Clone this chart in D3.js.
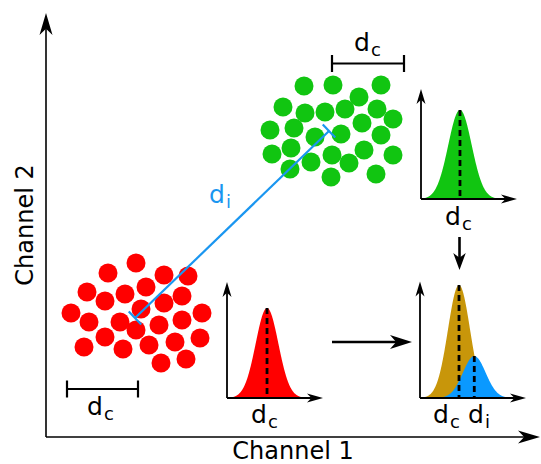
<!DOCTYPE html>
<html><head><meta charset="utf-8">
<script src="https://cdn.jsdelivr.net/npm/d3@7"></script>
<style>html,body{margin:0;padding:0;background:#fff;} svg{display:block;font-family:"DejaVu Sans",sans-serif;}</style>
</head><body><svg id="c" width="541" height="464"></svg>
<script>
// ---- data (channel units) ----
const redDots = [[90,174],[62,164],[118,162],[142,161],[41,145],[100,150],[79,143],[59,136],[136,141],[118,134],
  [95,128],[25,124],[156,124],[43,115],[74,115],[90,107],[113,112],[136,117],[59,100],[154,99],[129,95],[103,92],
  [38,90],[77,88],[115,74],[140,78]];
const greenDots = [[258,351],[287,352],[335,352],[237,330],[313,340],[259,324],[279,325],[299,328],[331,328],[347,318],
  [224,307],[248,309],[316,314],[269,300],[295,303],[335,302],[226,283],[245,289],[286,282],[318,287],[265,275],
  [303,274],[347,282],[244,268],[285,260],[330,263]];
const clusterCenters = [[89,119],[283,306]];      // red, green
const axisTitles = ["Channel 1", "Channel 2"];
// distributions in inset units (x,y in 0..100)
const redDist = [{mean:41.7, sd:11.8, peak:77.6}];
const greenDist = [{mean:40.6, sd:12.2, peak:81}];
const mixDist = [{mean:36.8, sd:10.4, peak:97}, {mean:51.2, sd:10.7, peak:36}];

const COL = {red:"#ff0000", green:"#11c511", blue:"#0a99ff", gold:"#c8960a", line:"#1a96f0"};
const svg = d3.select("#c");
const x = d3.scaleLinear().domain([0,494]).range([46,540]);
const y = d3.scaleLinear().domain([0,424]).range([437,13]);

function arrow(g, x1, y1, x2, y2, len, wid, sw){
  const a = Math.atan2(y2-y1, x2-x1);
  const bx = x2 - Math.cos(a)*len*0.7, by = y2 - Math.sin(a)*len*0.7;
  g.append("line").attr("x1",x1).attr("y1",y1).attr("x2",bx).attr("y2",by)
    .attr("stroke","#000").attr("stroke-width",sw);
  g.append("path").attr("d",`M0,0L${-len},${-wid/2}L${-len*0.72},0L${-len},${wid/2}Z`)
    .attr("fill","#000")
    .attr("transform",`translate(${x2},${y2}) rotate(${a*180/Math.PI})`);
}
function subLabel(g, px, py, main, sub, color, fs){
  fs = fs || 25;
  const t = g.append("text").attr("x",px).attr("y",py).attr("fill",color||"#000").attr("font-size",fs);
  t.append("tspan").text(main);
  t.append("tspan").attr("font-size",fs*0.72).attr("dy",5).attr("dx",1).text(sub);
}

// main axes
arrow(svg, x(0), y(0), x(0), y(424), 22, 13, 1.6);
arrow(svg, x(0), y(0), x(494), y(0), 22, 13, 1.6);
svg.append("text").attr("x",293).attr("y",459).attr("text-anchor","middle").attr("font-size",24).text(axisTitles[0]);
svg.append("text").attr("transform","translate(33,225) rotate(-90)").attr("text-anchor","middle").attr("font-size",24).text(axisTitles[1]);

// dots
svg.append("g").selectAll("circle").data(redDots).join("circle")
  .attr("cx",d=>x(d[0])).attr("cy",d=>y(d[1])).attr("r",9.5).attr("fill",COL.red);
svg.append("g").selectAll("circle").data(greenDots).join("circle")
  .attr("cx",d=>x(d[0])).attr("cy",d=>y(d[1])).attr("r",9.5).attr("fill",COL.green);

// distance line between clusters
{
  const [p,q] = clusterCenters.map(d=>[x(d[0]),y(d[1])]);
  const dx=q[0]-p[0], dy=q[1]-p[1], L=Math.hypot(dx,dy), nx=-dy/L, ny=dx/L, h=9;
  const g = svg.append("g").attr("stroke",COL.line).attr("stroke-width",2.2);
  g.append("line").attr("x1",p[0]).attr("y1",p[1]).attr("x2",q[0]).attr("y2",q[1]);
  [p,q].forEach(c=>g.append("line").attr("x1",c[0]-nx*h).attr("y1",c[1]-ny*h).attr("x2",c[0]+nx*h).attr("y2",c[1]+ny*h));
  subLabel(svg, 209, 203, "d", "i", COL.line, 25);
}

// scale bars d_c
function scaleBar(x1,x2,yy){
  const g = svg.append("g").attr("stroke","#000").attr("stroke-width",2.2);
  g.append("line").attr("x1",x1).attr("y1",yy).attr("x2",x2).attr("y2",yy);
  [x1,x2].forEach(v=>g.append("line").attr("x1",v).attr("y1",yy-8.5).attr("x2",v).attr("y2",yy+8.5));
}
scaleBar(x(21),x(92),y(48));
subLabel(svg, 87, 415, "d", "c");
scaleBar(x(286),x(358),y(373.5));
subLabel(svg, 354, 51, "d", "c");

// insets
function inset(ox, oy, xLen, yLen, dists, colors){
  const g = svg.append("g");
  const sx = d3.scaleLinear().domain([0,100]).range([ox, ox+xLen]);
  const sy = d3.scaleLinear().domain([0,100]).range([oy, oy-yLen]);
  dists.forEach((d,i)=>{
    const xs = d3.range(Math.max(0,d.mean-3.6*d.sd), d.mean+3.6*d.sd, 0.25);
    const pts = xs.map(v=>[v, d.peak*Math.exp(-0.5*((v-d.mean)/d.sd)**2)]);
    const area = d3.area().x(p=>sx(p[0])).y0(sy(0)).y1(p=>sy(p[1]));
    g.append("path").attr("d",area(pts)).attr("fill",colors[i]);
  });
  dists.forEach(d=>{
    g.append("line").attr("x1",sx(d.mean)).attr("x2",sx(d.mean)).attr("y1",sy(d.peak)).attr("y2",sy(0))
      .attr("stroke","#000").attr("stroke-width",2.8).attr("stroke-dasharray","6,4");
  });
  arrow(g, sx(0), sy(0), sx(0), sy(100), 15, 9, 1.8);
  arrow(g, sx(0), sy(0), sx(100), sy(0), 16, 9, 1.8);
}
inset(227, 398, 96, 116, redDist, [COL.red]);
subLabel(svg, 251, 423, "d", "c");
inset(421, 199, 96, 110, greenDist, [COL.green]);
subLabel(svg, 445, 225, "d", "c");
inset(420, 398, 106, 116.5, mixDist, [COL.gold, COL.blue]);
subLabel(svg, 433, 423, "d", "c");
subLabel(svg, 468, 423, "d", "i");

// flow arrows
arrow(svg, 332, 342, 412, 342, 22, 14, 2.6);
arrow(svg, 459.5, 237, 459.5, 270, 17, 12.5, 2.6);
</script></body></html>
